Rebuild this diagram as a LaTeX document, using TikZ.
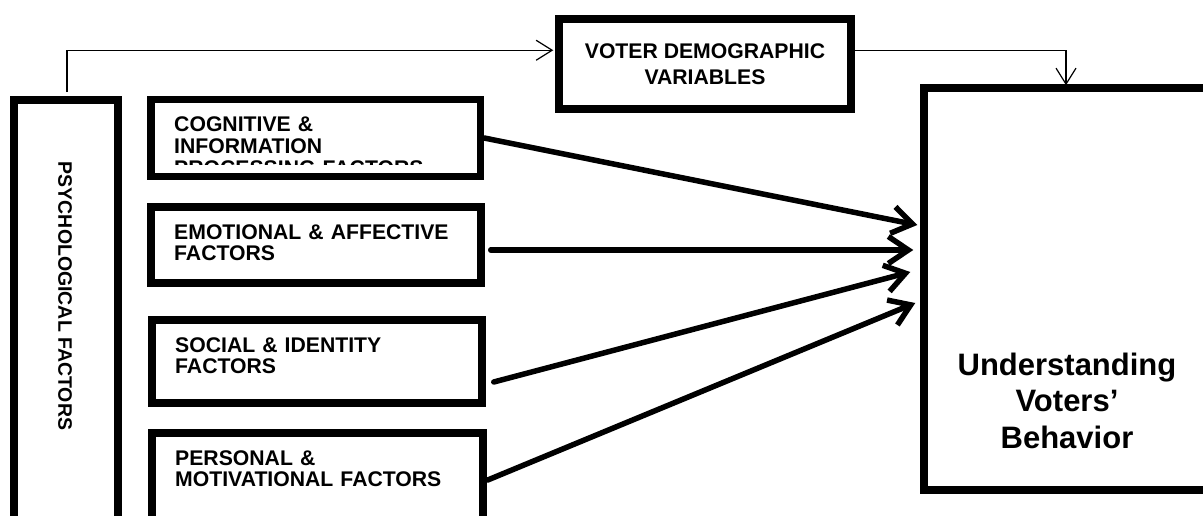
\documentclass[tikz,border=0pt]{standalone}
\usepackage{fontspec}
\setmainfont{Liberation Sans}
\usetikzlibrary{arrows.meta,calc}
\tikzset{
  box/.style={draw, line width=7.5pt, fill=none, inner sep=0pt, outer sep=3.75pt},
  boxtext/.style={anchor=base west, inner sep=0pt, align=left, text width=300pt,
    font=\bfseries\fontsize{21.2}{21.7}\selectfont},
  thick arrow/.style={line width=5.5pt, line cap=round,
    -{Straight Barb[length=20pt,width=27pt,line width=5.5pt]}},
  thin arrow/.style={line width=1.2pt,
    -{Straight Barb[length=16pt,width=20pt,line width=1.2pt]}},
}
\begin{document}
\begin{tikzpicture}[x=1pt,y=-1pt]
\useasboundingbox (0,0) rectangle (1203,516);
\clip (0,0) rectangle (1203,516);
\fill[white] (0,0) rectangle (1203,516);

% boxes
\node[box, minimum width=104pt, minimum height=430pt] (psych) at (66,315) {};
\node[box, minimum width=329.5pt, minimum height=77pt] (cog) at (315.75,138) {};
\node[box, minimum width=330pt, minimum height=76pt] (emo) at (316,245) {};
\node[box, minimum width=330pt, minimum height=83pt] (soc) at (317,361.5) {};
\node[box, minimum width=331pt, minimum height=97pt] (per) at (317.5,481.5) {};
\node[box, minimum width=292pt, minimum height=90pt, align=center,
      font=\bfseries\fontsize{21.2}{26}\selectfont] (voter) at (705,64)
      {VOTER DEMOGRAPHIC\\VARIABLES};
\node[box, minimum width=286pt, minimum height=402pt] (und) at (1067,289) {};

% texts
\node[rotate=-90, inner sep=0pt, font=\bfseries\fontsize{19.5}{22}\selectfont]
  (ptext) at (65,296) {PSYCHOLOGICAL FACTORS};
\begin{scope}
  \clip (155,103) rectangle (477,165);
  \node[boxtext] (tcog) at (174,132) {COGNITIVE \&\\INFORMATION\\PROCESSING FACTORS};
\end{scope}
\node[boxtext] (temo) at (174,239) {EMOTIONAL \& AFFECTIVE\\FACTORS};
\node[boxtext] (tsoc) at (175,352) {SOCIAL \& IDENTITY\\FACTORS};
\node[boxtext] (tper) at (175,465) {PERSONAL \&\\MOTIVATIONAL FACTORS};
\node[anchor=base, inner sep=0pt, align=center, text width=280pt,
      font=\bfseries\fontsize{31}{36.5}\selectfont] (utext) at (1067,375)
      {Understanding\\Voters’\\Behavior};

% thin connectors
\coordinate (c1) at ($(psych.north)+(1,-46)$);
\coordinate (c2) at ($(und.north)+(-1,-34)$);
\draw[thin arrow] ($(psych.north)+(1,-4)$) -- (c1) -- ($(voter.west |- c1)+(-2,0)$);
\draw[thin arrow] (voter.east |- c1) -- (c2) -- ($(und.north -| c2)+(0,1)$);

% thick arrows
\coordinate (t1) at ($(und.west)+(-3,-64)$);
\coordinate (t2) at ($(und.west)+(-7,-39)$);
\coordinate (t3) at ($(und.west)+(-10,-17)$);
\coordinate (t4) at ($(und.west)+(-5,14)$);
\draw[thick arrow] (cog.east) -- (t1);
\draw[thick arrow] ($(emo.east)+(6,5)$) -- (t2);
\draw[thick arrow] ($(soc.east)+(8,20.5)$) -- (t3);
\draw[thick arrow] ($(per.east)+(1,-1.5)$) -- (t4);
\end{tikzpicture}
\end{document}
